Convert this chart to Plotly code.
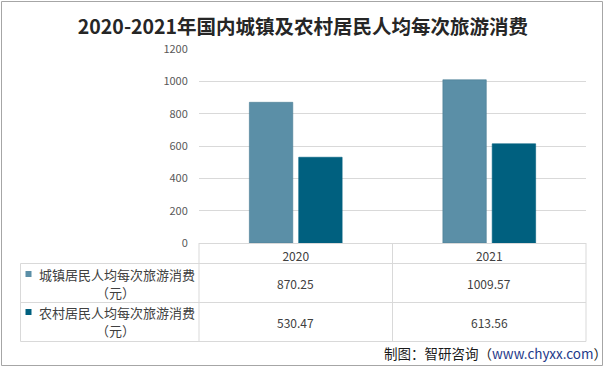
import plotly.graph_objects as go

years = ["2020", "2021"]
series_names = ["城镇居民人均每次旅游消费", "农村居民人均每次旅游消费"]
urban = [870.25, 1009.57]
rural = [530.47, 613.56]
unit = "（元）"
y_ticks = [0, 200, 400, 600, 800, 1000, 1200]
title_text = "2020-2021年国内城镇及农村居民人均每次旅游消费"
source_text = "制图：智研咨询（<span style='color:#1f3a8a'>www.chyxx.com</span>）"

W, H = 606, 367
L, R, T, B = 199, 20, 49, 124
PW = W - L - R
PH = H - T - B
FONT = "Noto Sans CJK SC, Noto Sans, sans-serif"
colors = ["#5b8fa7", "#00607f"]
grid = "#d9d9d9"


def px(x):
    return (x - L) / PW


def py(y):
    return (H - B - y) / PH


fig = go.Figure()
for name, vals, c in zip(series_names, [urban, rural], colors):
    fig.add_trace(go.Bar(
        x=years, y=vals, name=name, marker_color=c,
        marker_line=dict(width=0.6, color="#4a7c93" if c == colors[0] else c),
        showlegend=False, hoverinfo="skip",
    ))

shapes = []
ann = []
line = dict(color=grid, width=1)
# table horizontal lines
for yy in [263.5, 302.5, 341.5]:
    shapes.append(dict(type="line", xref="paper", yref="paper", x0=px(20.5), x1=1, y0=py(yy), y1=py(yy), line=line))
# verticals
shapes.append(dict(type="line", xref="paper", yref="paper", x0=px(20.5), x1=px(20.5), y0=py(263.5), y1=py(341.5), line=line))
for xv in [0, 1]:
    shapes.append(dict(type="line", xref="paper", yref="paper", x0=xv, x1=xv, y0=0, y1=py(341.5), line=line))
shapes.append(dict(type="line", xref="x", yref="paper", x0=0.5, x1=0.5, y0=0, y1=py(341.5), line=line))
# outer border
shapes.append(dict(type="rect", xref="paper", yref="paper", x0=px(1.5), x1=px(602.5), y0=py(1.5), y1=py(365.5),
                   line=dict(color="#a6a6a6", width=1)))

row_centers = [283, 322]
line1 = [274, 312]
line2 = [292, 330]
for i, (name, vals, c) in enumerate(zip(series_names, [urban, rural], colors)):
    shapes.append(dict(type="rect", xref="paper", yref="paper", x0=px(25.5), x1=px(31.5),
                       y0=py(line1[i] - 3), y1=py(line1[i] + 3), fillcolor=c, line=dict(width=0)))
    ann.append(dict(xref="paper", yref="paper", x=px(37), y=py(line1[i]), xanchor="left", yanchor="middle",
                    text=name, showarrow=False, font=dict(size=13, color="#404040", family=FONT)))
    ann.append(dict(xref="paper", yref="paper", x=px(115), y=py(line2[i]), xanchor="center", yanchor="middle",
                    text=unit, showarrow=False, font=dict(size=13, color="#404040", family=FONT)))
    for j, v in enumerate(vals):
        ann.append(dict(xref="x", yref="paper", x=j, y=py(row_centers[i]), xanchor="center", yanchor="middle",
                        text=f"{v:.2f}", showarrow=False, font=dict(size=12, color="#404040", family=FONT)))

ann.append(dict(xref="paper", yref="paper", x=px(609), y=py(353), xanchor="right", yanchor="middle",
                text=source_text, showarrow=False, font=dict(size=13.5, color="#1a1a1a", family=FONT)))

fig.update_layout(
    width=W, height=H,
    margin=dict(l=L, r=R, t=T, b=B),
    paper_bgcolor="white", plot_bgcolor="white",
    title=dict(text=f"<b>{title_text}</b>", x=0.5, xref="container", xanchor="center",
               y=1 - 27 / H, yanchor="middle", font=dict(size=19.5, color="#262626", family=FONT)),
    barmode="group", bargap=0.49, bargroupgap=0.12,
    shapes=shapes, annotations=ann,
    font=dict(family=FONT),
    hovermode=False,
)
fig.update_xaxes(type="category", range=[-0.5, 1.5], showline=True, linecolor=grid, linewidth=1,
                 showgrid=False, ticks="", tickfont=dict(size=12, color="#404040", family=FONT),
                 ticklabelstandoff=3)
fig.update_yaxes(range=[0, 1200], tickvals=y_ticks, showgrid=True, gridcolor=grid, gridwidth=1,
                 zeroline=False, showline=False, ticks="outside", ticklen=8, tickcolor="rgba(0,0,0,0)",
                 tickfont=dict(size=11, color="#595959", family=FONT))

fig.write_html("out.html", config={"displayModeBar": False},
               post_script="document.body.style.margin='0';document.body.style.overflow='hidden';")
